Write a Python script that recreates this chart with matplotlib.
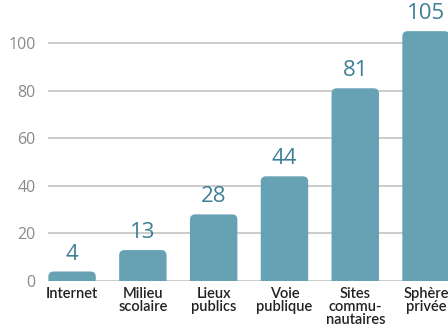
import matplotlib.pyplot as plt
from matplotlib.patches import FancyBboxPatch

categories = ["Internet", "Milieu\nscolaire", "Lieux\npublics", "Voie\npublique",
              "Sites\ncommu-\nnautaires", "Sphère\nprivée"]
values = [4, 13, 28, 44, 81, 105]
yticks = [0, 20, 40, 60, 80, 100]

bar_color = "#67a2b4"
label_color = "#3f7e96"

fig = plt.figure(figsize=(4.48, 3.34), dpi=100)
ax = fig.add_axes([48 / 448, 53 / 334, 400 / 448, 281 / 334])
ax.set_xlim(-0.34, 5.31)
ax.set_ylim(0, 118.1)

# grid and baseline
for t in yticks:
    ax.axhline(t, color="#c8c8c8", lw=1.3, zorder=1)

width = 0.67
rx = 0.075
ry = rx * 30
for i, v in enumerate(values):
    # rounded top; the bottom corners fall below zero and get clipped
    box = FancyBboxPatch((i - width / 2, -ry), width, v + ry,
                         boxstyle=f"round,pad=0,rounding_size={rx}",
                         mutation_aspect=30, fc=bar_color, ec="none", zorder=2)
    ax.add_patch(box)
    ax.annotate(str(v), (i, v), xytext=(0, 5), textcoords="offset points",
                ha="center", va="bottom", fontsize=16, color=label_color,
                family="Open Sans", weight="normal", annotation_clip=False)

ax.set_xticks(range(len(categories)))
ax.set_xticklabels(categories, fontsize=10.5, color="#222222", family="Lato",
                   weight="semibold", linespacing=0.95)
ax.set_yticks(yticks)
ax.set_yticklabels([str(t) for t in yticks], fontsize=11.5, color="#8a8a8a",
                   family="Open Sans", weight="normal")
ax.tick_params(axis="both", length=0)
ax.tick_params(axis="y", pad=9)
ax.tick_params(axis="x", pad=4)
for s in ax.spines.values():
    s.set_visible(False)

fig.savefig("out.png", dpi=100)
